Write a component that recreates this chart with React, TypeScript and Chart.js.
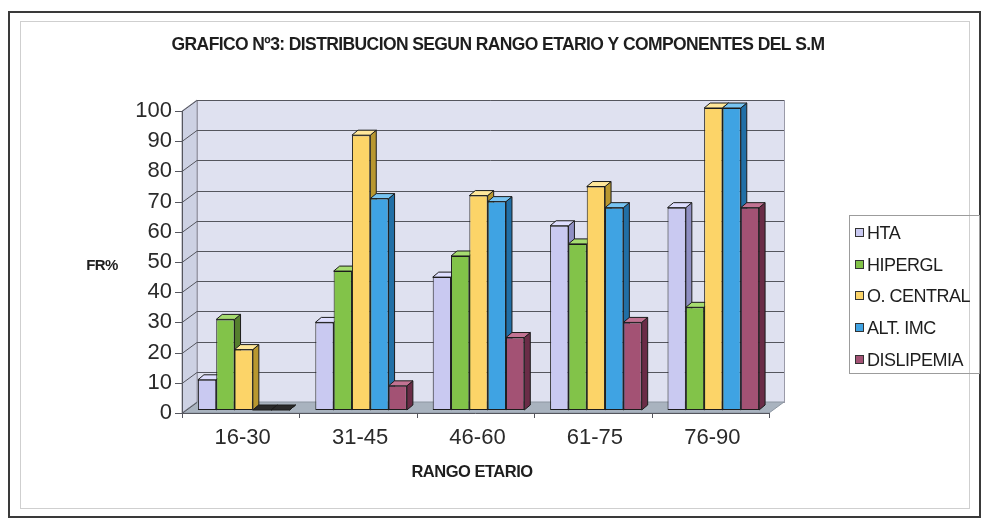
import React, { useEffect, useRef } from "react";
import { Chart, registerables } from "chart.js";

Chart.register(...registerables);

const title = "GRAFICO Nº3: DISTRIBUCION SEGUN RANGO ETARIO Y COMPONENTES DEL S.M";
const yAxisTitle = "FR%";
const xAxisTitle = "RANGO ETARIO";
const categories = ["16-30", "31-45", "46-60", "61-75", "76-90"];
const seriesNames = ["HTA", "HIPERGL", "O. CENTRAL", "ALT. IMC", "DISLIPEMIA"];
const hta = [10, 29, 44, 61, 67];
const hipergl = [30, 46, 51, 55, 34];
const oCentral = [20, 91, 71, 74, 100];
const altImc = [0, 70, 69, 67, 100];
const dislipemia = [0, 8, 24, 29, 67];
const yTicksMin = 0;
const yTicksMax = 100;
const yTickStep = 10;

const frontColors = ["#c9c9f1", "#82c349", "#fcd468", "#3fa3e3", "#a35274"];
const sideColors = ["#8f8fc2", "#557f2e", "#b8972f", "#216fa6", "#6a2c47"];
const topColors = ["#dedeff", "#a6dc70", "#ffe79a", "#78c4f2", "#c27393"];

const FONT = '"Liberation Sans", Arial, Helvetica, sans-serif';
// front plane (axis, labels) offset from bar plane
const FRONT_DX = -3;
const FRONT_DY = 3;
// back wall offset from bar plane
const BACK_DX = 12;
const BACK_DY = -8;
const BAR_DX = 6;
const BAR_DY = -5;

const decorPlugin = {
  id: "decor3d",
  beforeDraw(chart: any) {
    const { ctx, chartArea: a, scales } = chart;
    const y = scales.y;
    ctx.save();
    ctx.fillStyle = "#ffffff";
    ctx.fillRect(0, 0, chart.width, chart.height);
    // outer frames
    ctx.strokeStyle = "#3a3a3a";
    ctx.lineWidth = 2;
    ctx.strokeRect(9, 12, 971, 505);
    ctx.strokeStyle = "#cfcfcf";
    ctx.lineWidth = 1;
    ctx.strokeRect(20.5, 21.5, 949, 487);

    const fl = a.left + FRONT_DX;
    const fr = a.right + FRONT_DX;
    const ft = a.top + FRONT_DY;
    const fb = a.bottom + FRONT_DY;
    const bl = a.left + BACK_DX;
    const br = a.right + BACK_DX;
    const bt = a.top + BACK_DY;
    const bb = a.bottom + BACK_DY;

    // back wall
    ctx.fillStyle = "#dfe1f0";
    ctx.fillRect(bl, bt, br - bl, bb - bt);
    ctx.strokeStyle = "#9a9aa8";
    ctx.strokeRect(bl + 0.5, bt + 0.5, br - bl, bb - bt);
    // left wall
    ctx.fillStyle = "#cdd1e3";
    ctx.beginPath();
    ctx.moveTo(fl, ft);
    ctx.lineTo(bl, bt);
    ctx.lineTo(bl, bb);
    ctx.lineTo(fl, fb);
    ctx.closePath();
    ctx.fill();
    ctx.stroke();
    // floor
    ctx.fillStyle = "#a9b3bf";
    ctx.beginPath();
    ctx.moveTo(fl, fb);
    ctx.lineTo(bl, bb);
    ctx.lineTo(br, bb);
    ctx.lineTo(fr, fb);
    ctx.closePath();
    ctx.fill();
    ctx.strokeStyle = "#8d96a2";
    ctx.stroke();

    // gridlines and tick marks
    ctx.strokeStyle = "#55565e";
    ctx.lineWidth = 1;
    y.ticks.forEach((t: any) => {
      const py = y.getPixelForValue(t.value);
      const pf = Math.round(py + FRONT_DY) + 0.5;
      const pb = Math.round(py + BACK_DY) + 0.5;
      ctx.beginPath();
      ctx.moveTo(fl - 7, pf);
      ctx.lineTo(fl, pf);
      ctx.lineTo(bl, pb);
      if (t.value !== yTicksMin) ctx.lineTo(br, pb);
      ctx.stroke();
    });
    // front vertical axis line
    ctx.beginPath();
    ctx.moveTo(fl + 0.5, ft);
    ctx.lineTo(fl + 0.5, fb);
    ctx.stroke();
    // small category ticks on floor front edge
    const x = scales.x;
    for (let i = 0; i <= categories.length; i++) {
      const px = Math.round(a.left + ((a.right - a.left) * i) / categories.length + FRONT_DX) + 0.5;
      ctx.beginPath();
      ctx.moveTo(px, fb);
      ctx.lineTo(px, fb + 5);
      ctx.stroke();
    }
    ctx.beginPath();
    ctx.moveTo(fl, fb + 0.5);
    ctx.lineTo(fr, fb + 0.5);
    ctx.stroke();
    void x;
    ctx.restore();
  },
  beforeDatasetsDraw(chart: any) {
    const { ctx } = chart;
    ctx.save();
    ctx.strokeStyle = "#1c1c1c";
    ctx.lineWidth = 1;
    const n = chart.data.labels.length;
    for (let i = 0; i < n; i++) {
      chart.data.datasets.forEach((ds: any, di: number) => {
        const el = chart.getDatasetMeta(di).data[i];
        if (!el) return;
        const p = el.getProps(["x", "y", "base", "width"], true);
        const l = p.x - p.width / 2;
        const r = p.x + p.width / 2;
        const top = Math.min(p.y, p.base);
        const bot = Math.max(p.y, p.base);
        // side face
        ctx.fillStyle = sideColors[di];
        ctx.beginPath();
        ctx.moveTo(r, top);
        ctx.lineTo(r + BAR_DX, top + BAR_DY);
        ctx.lineTo(r + BAR_DX, bot + BAR_DY);
        ctx.lineTo(r, bot);
        ctx.closePath();
        ctx.fill();
        ctx.stroke();
        // top face
        ctx.fillStyle = bot - top < 1 ? "#2a2a2a" : topColors[di];
        ctx.beginPath();
        ctx.moveTo(l, top);
        ctx.lineTo(l + BAR_DX, top + BAR_DY);
        ctx.lineTo(r + BAR_DX, top + BAR_DY);
        ctx.lineTo(r, top);
        ctx.closePath();
        ctx.fill();
        ctx.stroke();
      });
    }
    ctx.restore();
  },
  afterDraw(chart: any) {
    const { ctx } = chart;
    ctx.save();
    ctx.fillStyle = "#1e1e1e";
    ctx.textBaseline = "middle";
    ctx.textAlign = "center";
    // title
    ctx.font = `bold 17.5px ${FONT}`;
    (ctx as any).letterSpacing = "-0.6px";
    ctx.fillText(title, 498, 45);
    // y axis title
    ctx.font = `bold 15px ${FONT}`;
    (ctx as any).letterSpacing = "-0.6px";
    ctx.fillText(yAxisTitle, 102, 266);
    // x axis title
    ctx.font = `bold 16.5px ${FONT}`;
    (ctx as any).letterSpacing = "-0.5px";
    ctx.fillText(xAxisTitle, 472, 472);
    (ctx as any).letterSpacing = "0px";

    // legend
    const lx = 849;
    const ly = 215;
    ctx.strokeStyle = "#9c9c9c";
    ctx.lineWidth = 1;
    ctx.strokeRect(lx + 0.5, ly + 0.5, 130, 158);
    ctx.textAlign = "left";
    ctx.font = `18px ${FONT}`;
    (ctx as any).letterSpacing = "-0.5px";
    chart.data.datasets.forEach((ds: any, i: number) => {
      const cy = Math.round(233 + i * 31.7);
      ctx.fillStyle = ds.backgroundColor;
      ctx.fillRect(855.5, cy - 4.5, 8, 8);
      ctx.strokeStyle = "#333";
      ctx.strokeRect(855.5, cy - 4.5, 8, 8);
      ctx.fillStyle = "#1e1e1e";
      ctx.fillText(ds.label, 867, cy + 1);
    });
    ctx.restore();
  },
};

export default function App() {
  const ref = useRef<HTMLCanvasElement | null>(null);
  useEffect(() => {
    if (!ref.current) return;
    const seriesValues = [hta, hipergl, oCentral, altImc, dislipemia];
    const chart = new Chart(ref.current, {
      type: "bar",
      data: {
        labels: categories,
        datasets: seriesNames.map((name, i) => ({
          label: name,
          data: seriesValues[i],
          backgroundColor: frontColors[i],
          borderColor: "#1c1c1c",
          borderWidth: 1,
          borderSkipped: false,
          categoryPercentage: 0.78,
          barPercentage: 1,
        })),
      },
      options: {
        animation: false,
        responsive: false,
        devicePixelRatio: 1,
        layout: { padding: { left: 0, right: 213, top: 108, bottom: 40 } },
        plugins: {
          legend: { display: false },
          title: { display: false },
          tooltip: { enabled: false },
        },
        scales: {
          x: {
            grid: { display: false },
            border: { display: false },
            ticks: {
              color: "#2a2a2a",
              font: { family: FONT, size: 22 },
              padding: 7,
              labelOffset: -1,
              maxRotation: 0,
            },
            afterFit: (s: any) => {
              s.height = 520 - 410 - 40;
            },
          },
          y: {
            min: yTicksMin,
            max: yTicksMax,
            ticks: {
              stepSize: yTickStep,
              color: "#2a2a2a",
              font: { family: FONT, size: 22 },
              padding: 13,
              labelOffset: FRONT_DY,
            },
            grid: { display: false, drawTicks: false },
            border: { display: false },
            afterFit: (s: any) => {
              s.width = 185;
            },
          },
        },
      },
      plugins: [decorPlugin],
    });
    return () => chart.destroy();
  }, []);
  return (
    <div style={{ position: "absolute", left: 0, top: 0, width: 985, height: 520, background: "#fff" }}>
      <canvas ref={ref} width={985} height={520} style={{ display: "block" }} />
    </div>
  );
}
